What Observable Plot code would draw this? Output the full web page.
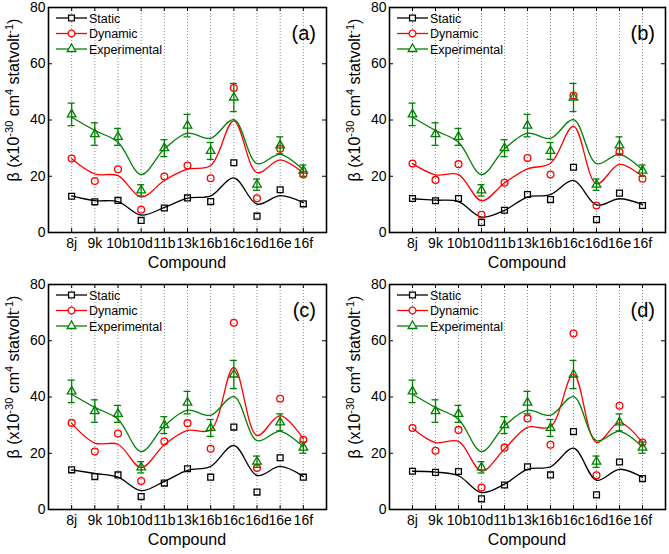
<!DOCTYPE html>
<html><head><meta charset="utf-8">
<script src="https://cdn.jsdelivr.net/npm/d3@7"></script>
<script src="https://cdn.jsdelivr.net/npm/@observablehq/plot@0.6"></script>
<style>
body{margin:0;background:#fff;}
#wrap{position:relative;width:669px;height:554px;overflow:hidden;font-family:"Liberation Sans",Arial,sans-serif;}
.panel{position:absolute;}
</style></head><body><div id="wrap"></div>
<script>
const compounds = ["8j","9k","10b","10d","11b","13k","16b","16c","16d","16e","16f"];
const yTicks = [0, 20, 40, 60, 80];
const seriesNames = ["Static", "Dynamic", "Experimental"];
const panelLabels = ["(a)", "(b)", "(c)", "(d)"];

// Experimental (same in every panel)
const experimental = [42, 35, 34, 15, 30, 38, 29, 48, 17, 31, 22];
const expError     = [4, 4, 3, 2, 3, 4, 3, 5, 2, 3, 2];
const experimentalFit = [41.0, 36.3, 32.1, 20.6, 29.7, 35.3, 33.5, 40.1, 24.5, 27.8, 22.2];

// Panel (a)
const staticA     = [12.9, 10.9, 11.4, 4.3, 8.7, 12.3, 11.0, 24.8, 5.8, 15.2, 10.2];
const dynamicA    = [26.3, 18.3, 22.5, 8.1, 19.9, 23.8, 19.3, 51.4, 12.2, 29.8, 20.6];
const staticFitA  = [13.0, 11.3, 11.0, 6.2, 8.9, 12.2, 13.0, 19.4, 10.1, 13.1, 10.6];
const dynamicFitA = [26.2, 20.8, 20.2, 12.6, 18.5, 22.5, 23.8, 39.7, 21.3, 25.8, 21.1];

// Panel (b)
const staticB     = [12.1, 11.3, 12.1, 3.6, 7.9, 13.5, 11.7, 23.2, 4.6, 14.0, 9.6];
const dynamicB    = [24.5, 18.7, 24.3, 6.3, 17.7, 26.5, 20.6, 48.7, 9.6, 28.6, 19.1];
const staticFitB  = [12.0, 11.5, 11.0, 5.5, 7.9, 12.6, 13.5, 18.5, 9.8, 12.0, 9.9];
const dynamicFitB = [24.5, 20.5, 20.6, 11.3, 17.6, 22.6, 24.6, 37.7, 17.3, 24.2, 19.9];

// Panel (c)
const staticC     = [14.1, 11.7, 12.3, 4.6, 9.4, 14.5, 11.5, 29.3, 6.2, 18.4, 11.5];
const dynamicC    = [30.8, 20.6, 27.0, 10.1, 24.2, 30.7, 21.6, 66.4, 14.8, 39.4, 24.8];
const staticFitC  = [14.1, 12.8, 11.5, 6.7, 10.0, 13.9, 15.3, 22.8, 12.1, 15.3, 11.7];
const dynamicFitC = [30.6, 23.6, 23.2, 14.9, 23.0, 28.1, 28.3, 50.5, 26.3, 33.4, 25.1];

// Panel (d)
const staticD     = [13.6, 13.2, 13.5, 3.8, 8.7, 15.2, 12.3, 27.7, 5.2, 16.9, 11.0];
const dynamicD    = [29.0, 20.9, 28.3, 7.8, 22.0, 32.4, 23.0, 62.6, 12.2, 36.9, 23.8];
const staticFitD  = [13.6, 13.3, 12.0, 6.0, 9.0, 14.3, 15.2, 21.8, 10.4, 14.3, 11.4];
const dynamicFitD = [28.9, 23.8, 24.2, 13.7, 21.5, 29.2, 29.4, 48.1, 23.8, 30.9, 23.8];

const BLACK = "#000000", RED = "#ff0000", GREEN = "#008000";
const FONT = "Liberation Sans, Arial, sans-serif";

const panels = [
  {label: panelLabels[0], left: 0,   top: 0,   width: 335, mL: 48, mR: 9, st: staticA, dy: dynamicA, stFit: staticFitA, dyFit: dynamicFitA},
  {label: panelLabels[1], left: 335, top: 0,   width: 334, mL: 54, mR: 4, st: staticB, dy: dynamicB, stFit: staticFitB, dyFit: dynamicFitB},
  {label: panelLabels[2], left: 0,   top: 277, width: 335, mL: 48, mR: 9, st: staticC, dy: dynamicC, stFit: staticFitC, dyFit: dynamicFitC},
  {label: panelLabels[3], left: 335, top: 277, width: 334, mL: 54, mR: 4, st: staticD, dy: dynamicD, stFit: staticFitD, dyFit: dynamicFitD}
];

const wrap = document.getElementById("wrap");
const idx = d3.range(compounds.length);
const H = 277, mT = 7, mB = 45;
const frameH = H - mT - mB;
const rSq = 3.3, rCi = 3.4, rTri = 3.2;

for (const p of panels) {
  const frameW = p.width - p.mL - p.mR;
  const plot = Plot.plot({
    width: p.width, height: H,
    marginLeft: p.mL, marginRight: p.mR, marginTop: mT, marginBottom: mB,
    style: {fontFamily: FONT, fontSize: "14px", color: "#000", background: "transparent", overflow: "visible"},
    x: {type: "linear", domain: [-1, 11]},
    y: {type: "linear", domain: [0, 80]},
    marks: [
      // dotted vertical grid
      Plot.ruleX(idx, {x: d => d, stroke: "#8a8a8a", strokeWidth: 1, strokeDasharray: "1,2"}),
      // inward ticks
      Plot.ruleX(idx, {x: d => d, insetBottom: frameH - 4, stroke: "#000", strokeWidth: 1}),
      Plot.ruleX(idx, {x: d => d, insetTop: frameH - 4, stroke: "#000", strokeWidth: 1}),
      Plot.ruleY(yTicks, {y: d => d, insetRight: frameW - 4, stroke: "#000", strokeWidth: 1}),
      Plot.ruleY(yTicks, {y: d => d, insetLeft: frameW - 4, stroke: "#000", strokeWidth: 1}),
      Plot.axisX(idx, {tickFormat: i => compounds[i], tickSize: 0, tickPadding: 6, label: null}),
      Plot.axisY(yTicks, {tickSize: 0, tickPadding: 3, label: null}),
      // fitted curves
      Plot.line(idx, {x: d => d, y: i => p.stFit[i], curve: "catmull-rom", stroke: BLACK, strokeWidth: 1.3}),
      Plot.line(idx, {x: d => d, y: i => p.dyFit[i], curve: "catmull-rom", stroke: RED, strokeWidth: 1.3}),
      Plot.line(idx, {x: d => d, y: i => experimentalFit[i], curve: "catmull-rom", stroke: GREEN, strokeWidth: 1.3}),
      // error bars
      Plot.ruleX(idx, {x: d => d, y1: i => experimental[i] - expError[i], y2: i => experimental[i] + expError[i], stroke: GREEN, strokeWidth: 1.3}),
      Plot.ruleY(idx, {x1: d => d, x2: d => d, y: i => experimental[i] - expError[i], insetLeft: -3.5, insetRight: -3.5, stroke: GREEN, strokeWidth: 1.3}),
      Plot.ruleY(idx, {x1: d => d, x2: d => d, y: i => experimental[i] + expError[i], insetLeft: -3.5, insetRight: -3.5, stroke: GREEN, strokeWidth: 1.3}),
      // points
      Plot.dot(idx, {x: d => d, y: i => p.st[i], symbol: "square", r: rSq, stroke: BLACK, fill: "none", strokeWidth: 1.3}),
      Plot.dot(idx, {x: d => d, y: i => p.dy[i], symbol: "circle", r: rCi, stroke: RED, fill: "none", strokeWidth: 1.3}),
      Plot.dot(idx, {x: d => d, y: i => experimental[i], symbol: "triangle", r: rTri, stroke: GREEN, fill: "none", strokeWidth: 1.3}),
      Plot.frame({stroke: "#000", strokeWidth: 1.6})
    ]
  });

  const div = document.createElement("div");
  div.className = "panel";
  div.style.left = p.left + "px";
  div.style.top = p.top + "px";
  div.appendChild(plot);
  wrap.appendChild(div);

  const svg = d3.select(plot);
  // legend
  const leg = svg.append("g").attr("font-family", FONT).attr("font-size", 12.5).attr("text-anchor", "start");
  const legItems = [
    {name: seriesNames[0], color: BLACK, sym: d3.symbolSquare, r: rSq},
    {name: seriesNames[1], color: RED, sym: d3.symbolCircle, r: rCi},
    {name: seriesNames[2], color: GREEN, sym: d3.symbolTriangle, r: rTri}
  ];
  legItems.forEach((it, k) => {
    const yy = mT + 11 + k * 15.5;
    const x0 = p.mL + 8, x1 = p.mL + 39;
    leg.append("line").attr("x1", x0).attr("x2", x1).attr("y1", yy).attr("y2", yy)
      .attr("stroke", it.color).attr("stroke-width", 1.3);
    leg.append("path").attr("transform", `translate(${(x0 + x1) / 2},${yy})`)
      .attr("d", d3.symbol(it.sym, Math.PI * it.r * it.r)())
      .attr("fill", "white").attr("stroke", it.color).attr("stroke-width", 1.3);
    leg.append("text").attr("x", x1 + 2).attr("y", yy).attr("dy", "0.36em")
      .attr("text-anchor", "start").attr("fill", "#000").text(it.name);
  });
  // panel label
  svg.append("text").attr("x", p.width - p.mR - 10).attr("y", mT + 33)
    .attr("text-anchor", "end").attr("font-family", FONT).attr("font-size", 20).attr("fill", "#000").text(p.label);
  // x title
  svg.append("text").attr("x", p.mL + frameW / 2).attr("y", 268)
    .attr("text-anchor", "middle").attr("font-family", FONT).attr("font-size", 16).attr("fill", "#000").text("Compound");
  // y title with superscripts
  const yt = svg.append("text")
    .attr("transform", `translate(${p.mL - 29},${mT + 93}) rotate(-90)`)
    .attr("text-anchor", "middle").attr("font-family", FONT).attr("font-size", 16).attr("fill", "#000");
  yt.append("tspan").text("β (x10");
  yt.append("tspan").attr("dy", -6).attr("font-size", 11).text("-30");
  yt.append("tspan").attr("dy", 6).text(" cm");
  yt.append("tspan").attr("dy", -6).attr("font-size", 11).text("4");
  yt.append("tspan").attr("dy", 6).text(" statvolt");
  yt.append("tspan").attr("dy", -6).attr("font-size", 11).text("-1");
  yt.append("tspan").attr("dy", 6).text(")");
}
</script>
</body></html>
